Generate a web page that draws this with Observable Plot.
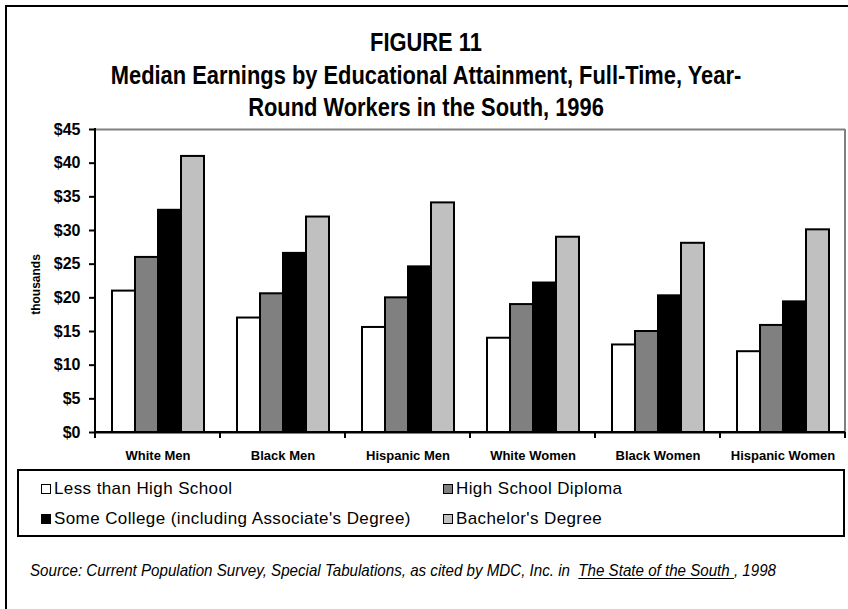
<!DOCTYPE html>
<html><head><meta charset="utf-8">
<script src="https://cdn.jsdelivr.net/npm/d3@7"></script>
<script src="https://cdn.jsdelivr.net/npm/@observablehq/plot@0.6"></script>
<style>
body{margin:0;background:#fff;}
#wrap{position:relative;width:848px;height:609px;overflow:hidden;background:#fff;font-family:"Liberation Sans",Arial,sans-serif;color:#000;}
.bl{position:absolute;background:#000;}
#title{position:absolute;left:0;width:852px;top:26px;text-align:center;font-family:"Liberation Sans",Arial,sans-serif;font-weight:bold;font-size:25px;line-height:32.5px;transform:scaleX(0.875);transform-origin:426px 0;}
#chart{position:absolute;left:0;top:120px;}
#legend{position:absolute;left:17px;top:469px;width:828px;height:68px;border:2px solid #000;box-sizing:border-box;}
.item{position:absolute;display:flex;align-items:center;font-size:17px;line-height:18px;white-space:nowrap;letter-spacing:0.4px;}
.sw{width:8px;height:8px;border:1.5px solid #000;margin-right:3px;}
#source{position:absolute;left:30px;top:562px;font-style:italic;font-size:17px;line-height:18px;font-family:"Liberation Sans",Arial,sans-serif;white-space:nowrap;transform:scaleX(0.89);transform-origin:0 0;}
#source u{text-underline-offset:2px;}
</style></head>
<body>
<div id="wrap">
  <div class="bl" style="left:5px;top:5px;width:2px;height:604px"></div>
  <div class="bl" style="left:5px;top:5px;width:843px;height:2px"></div>
  <div id="title">FIGURE 11<br>Median Earnings by Educational Attainment, Full-Time, Year-<br>Round Workers in the South, 1996</div>
  <div id="chart"></div>
  <div id="legend"></div>
  <div id="source">Source: Current Population Survey, Special Tabulations, as cited by MDC, Inc. in &nbsp;<u>The State of the South </u>, 1998</div>
</div>
<script>
const categories = ["White Men", "Black Men", "Hispanic Men", "White Women", "Black Women", "Hispanic Women"];
const levels = ["Less than High School", "High School Diploma", "Some College (including Associate's Degree)", "Bachelor's Degree"];
const lessThanHS = [21, 17, 15.6, 14, 13, 12];
const hsDiploma = [26, 20.6, 20, 19, 15, 15.9];
const someCollege = [33, 26.6, 24.6, 22.2, 20.3, 19.4];
const bachelors = [41, 32, 34.1, 29, 28.1, 30.1];
const levelColors = ["#ffffff", "#808080", "#000000", "#c0c0c0"];
const yTicks = [0, 5, 10, 15, 20, 25, 30, 35, 40, 45];

const series = [lessThanHS, hsDiploma, someCollege, bachelors];
const data = [];
categories.forEach((c, i) => levels.forEach((l, k) => data.push({category: c, level: l, value: series[k][i]})));

const chart = Plot.plot({
  width: 848, height: 342,
  marginTop: 9, marginLeft: 95, marginRight: 3, marginBottom: 30,
  style: {fontFamily: "'Liberation Sans', Arial, sans-serif", background: "transparent", overflow: "visible"},
  fx: {domain: categories, padding: 0, label: null},
  x: {domain: levels, paddingInner: 0, paddingOuter: 0.7, axis: null},
  y: {domain: [0, 45], label: null},
  color: {domain: levels, range: levelColors},
  marks: [
    Plot.ruleY([45], {stroke: "#808080", strokeWidth: 2}),
    Plot.barY(data, {fx: "category", x: "level", y: "value", fill: "level", stroke: "#000", strokeWidth: 2}),
    Plot.ruleY([0], {stroke: "#000", strokeWidth: 2}),
    Plot.axisY({ticks: yTicks, tickFormat: d => "$" + d, tickSize: 6, tickPadding: 9, strokeWidth: 2, fontSize: 16, fontWeight: "bold", label: null}),
    Plot.axisFx({anchor: "bottom", tickSize: 0, tickPadding: 18, fontSize: 13, fontWeight: "bold", label: null})
  ]
});
document.getElementById("chart").appendChild(chart);

// axis line, group boundary ticks and right frame edge, placed with the plot's own scales
const fx = chart.scale("fx"), y = chart.scale("y");
const fxs = d3.scaleBand().domain(fx.domain).range(fx.range).paddingInner(0).paddingOuter(0);
const y0 = y.apply(0), yTop = y.apply(45);
const svg = d3.select(chart);
const bounds = fx.domain.map(d => fxs(d)).concat([fxs(fx.domain[fx.domain.length - 1]) + fxs.bandwidth()]);
const g = svg.append("g");
const last = bounds[bounds.length - 1];
g.append("line").attr("x1", last).attr("x2", last).attr("y1", yTop).attr("y2", y0).attr("stroke", "#808080").attr("stroke-width", 2);
g.selectAll("line.b").data(bounds).join("line").attr("class", "b")
  .attr("x1", d => d).attr("x2", d => d).attr("y1", y0).attr("y2", y0 + 6).attr("stroke", "#000").attr("stroke-width", 2);
g.append("line").attr("x1", bounds[0]).attr("x2", bounds[0]).attr("y1", yTop - 1).attr("y2", y0 + 1).attr("stroke", "#000").attr("stroke-width", 2);
g.append("line").attr("x1", bounds[0]).attr("x2", last).attr("y1", y0).attr("y2", y0).attr("stroke", "#000").attr("stroke-width", 2);

// y-axis title
g.append("text").attr("transform", `translate(40,${(y0 + yTop) / 2 + 4}) rotate(-90)`)
  .attr("text-anchor", "middle").attr("font-weight", "bold").attr("font-size", 12).text("thousands");

// legend
const legend = document.getElementById("legend");
const pos = [[22, 9], [424, 9], [22, 39], [424, 39]];
levels.forEach((l, k) => {
  const it = document.createElement("div");
  it.className = "item";
  it.style.left = pos[k][0] + "px";
  it.style.top = pos[k][1] + "px";
  const sw = document.createElement("span");
  sw.className = "sw";
  sw.style.background = levelColors[k];
  it.appendChild(sw);
  it.appendChild(document.createTextNode(l));
  legend.appendChild(it);
});
</script>
</body></html>
